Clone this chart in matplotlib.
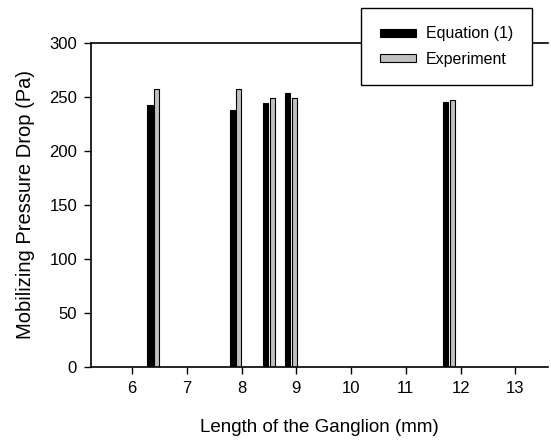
import matplotlib
matplotlib.use("Agg")
import matplotlib.pyplot as plt
import numpy as np

plt.rcParams["font.family"] = ["Liberation Sans", "DejaVu Sans"]

# ganglion lengths (mm), group centres of each bar pair
lengths = [6.39, 7.89, 8.50, 8.90, 11.79]
equation_vals = [243, 238, 244, 254, 245]
experiment_vals = [257, 257, 249, 249, 247]

x_ticks = [6, 7, 8, 9, 10, 11, 12, 13]
y_ticks = [0, 50, 100, 150, 200, 250, 300]

fig = plt.figure(figsize=(5.51, 4.43), dpi=100)
ax = fig.add_axes([0.165, 0.1716, 0.83, 0.7314])

x = np.array(lengths)
w = 0.095
ax.bar(x - 0.06, equation_vals, width=w, color="black", edgecolor="black",
       linewidth=0.8, label="Equation (1)")
ax.bar(x + 0.06, experiment_vals, width=w, color="#c0c0c0", edgecolor="black",
       linewidth=0.8, label="Experiment")

ax.set_xlim(5.25, 13.6)
ax.set_ylim(0, 300)
ax.set_xticks(x_ticks)
ax.set_yticks(y_ticks)
ax.tick_params(direction="out", length=5, width=1, labelsize=12, pad=5)

for side in ["left", "bottom", "top"]:
    ax.spines[side].set_linewidth(1.2)
ax.spines["right"].set_visible(False)

ax.set_xlabel("Length of the Ganglion (mm)", fontsize=13.5, labelpad=17)
ax.set_ylabel("Mobilizing Pressure Drop (Pa)", fontsize=14.5, labelpad=10)

leg = fig.legend(loc="upper left", bbox_to_anchor=(0.656, 0.982),
                 fontsize=11.5, fancybox=False, framealpha=1,
                 edgecolor="black", handlelength=2.25, handleheight=0.4,
                 handletextpad=0.65, borderpad=1.15, labelspacing=0.65,
                 borderaxespad=0)
leg.get_frame().set_linewidth(1.0)

fig.savefig("out.png", dpi=100)
